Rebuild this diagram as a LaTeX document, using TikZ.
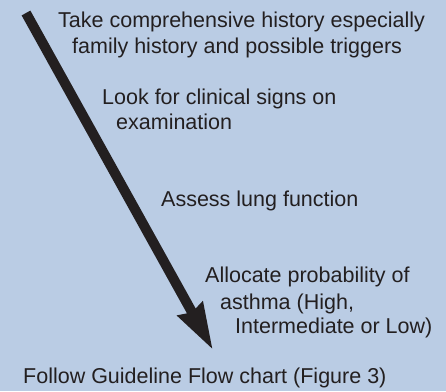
\documentclass[tikz,border=0pt]{standalone}
\usepackage{fontspec}
\setmainfont{Liberation Sans}
\usetikzlibrary{arrows.meta}
\definecolor{fundo}{RGB}{186,204,228}
\definecolor{tinta}{RGB}{35,31,32}
\tikzset{
  fundobox/.style={fill=fundo, draw=none},
  seta/.style={-{Triangle[length=46pt, width=27pt, inset=3pt]}, tinta, line width=10pt},
  linha/.style={anchor=base west, inner sep=0pt, text=tinta, font=\fontsize{21.5}{24}\selectfont},
}

\begin{document}
\begin{tikzpicture}[x=1pt, y=-1pt]

  % fundo
  \fill[fundobox] (0,0) rectangle (446,391);
  \useasboundingbox (0,0) rectangle (446,391);

  % seta diagonal
  \coordinate (inicio) at (26,13);
  \coordinate (ponta)  at (213,350);
  \draw[seta] (inicio) -- (ponta);

  % passos
  \node[linha] (take1)  at (58,27)  {Take comprehensive history especially};
  \node[linha] (take2)  at (72,53)  {family history and possible triggers};
  \node[linha] (look1)  at (102,104) {Look for clinical signs on};
  \node[linha] (look2)  at (116,129) {examination};
  \node[linha] (assess) at (161,206) {Assess lung function};
  \node[linha] (alloc1) at (205,282) {Allocate probability of};
  \node[linha] (alloc2) at (220,309) {asthma (High,};
  \node[linha] (alloc3) at (235,333) {Intermediate or Low)};
  \node[linha] (follow) at (23,383)  {Follow Guideline Flow chart (Figure 3)};
\end{tikzpicture}
\end{document}
